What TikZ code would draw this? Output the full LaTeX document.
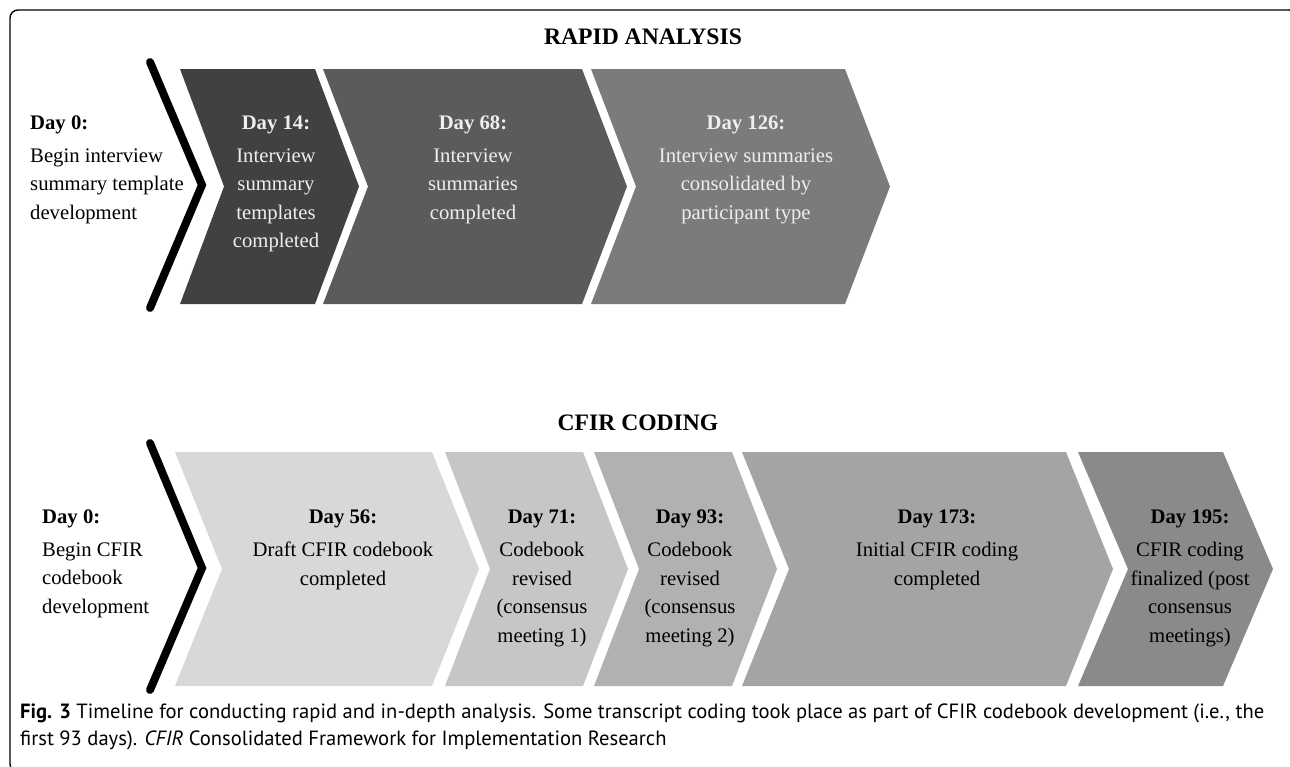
\documentclass[tikz,border=0pt]{standalone}
\usepackage{fontspec}
\setmainfont{Liberation Serif}
\newfontfamily\capfont{PT Sans}
\usepackage{xcolor}
\usetikzlibrary{positioning}

\definecolor{raA}{HTML}{414141}
\definecolor{raB}{HTML}{5B5B5B}
\definecolor{raC}{HTML}{7B7B7B}
\definecolor{cfA}{HTML}{D8D8D8}
\definecolor{cfB}{HTML}{C6C6C6}
\definecolor{cfC}{HTML}{B1B1B1}
\definecolor{cfD}{HTML}{A4A4A4}
\definecolor{cfE}{HTML}{8A8A8A}
\definecolor{lighttext}{HTML}{EEEEEE}

% chevron: left x, right x, top y, bottom y, depth of point, fill colour
\newcommand{\chev}[6]{%
  \fill[#6] (#1,#3) -- (#2,#3) -- ({#2+#5},{(#3+#4)/2}) -- (#2,#4)
    -- (#1,#4) -- ({#1+#5},{(#3+#4)/2}) -- cycle;}

\begin{document}
\begin{tikzpicture}[
    x=1pt,y=-1pt,
    node distance=14.5pt,
    heading/.style={font=\fontsize{23.6}{28}\selectfont\bfseries,inner sep=0pt,anchor=base},
    day/.style={font=\fontsize{20.7}{28}\selectfont\bfseries,inner sep=0pt,anchor=base},
    body/.style={font=\fontsize{20.7}{28.5}\selectfont,inner sep=0pt,align=center},
    bar/.style={line width=8pt,line cap=round,line join=miter}
]
\useasboundingbox (0,0) rectangle (1290,766);

% frame
\draw[line width=1.4pt,rounded corners=8pt] (1297,40) -- (1297,10) -- (10,10) -- (10,772) -- (40,772);

% rapid analysis
\node[heading] (rapid) at (643,44) {RAPID ANALYSIS};
\draw[bar] (150,62) -- (202,185) -- (150,308);
\chev{180}{315}{69}{304}{44}{raA}
\chev{323}{582}{69}{304}{45}{raB}
\chev{591}{845}{69}{304}{45}{raC}

\node[day,anchor=base west] (r0) at (30,129) {Day 0:};
\node[body,align=left,below=of r0.south west,anchor=north west] (r0t)
    {Begin interview\\summary template\\development};
\node[day,text=lighttext] (r14) at (276,129) {Day 14:};
\node[body,text=lighttext,below=of r14] (r14t)
    {Interview\\summary\\templates\\completed};
\node[day,text=lighttext] (r68) at (473,129) {Day 68:};
\node[body,text=lighttext,below=of r68] (r68t)
    {Interview\\summaries\\completed};
\node[day,text=lighttext] (r126) at (746,129) {Day 126:};
\node[body,text=lighttext,below=of r126] (r126t)
    {Interview summaries\\consolidated by\\participant type};

% cfir coding
\node[heading] (cfir) at (638,430) {CFIR CODING};
\draw[bar] (150,443) -- (202,568) -- (150,690);
\chev{175}{432}{452}{686}{47}{cfA}
\chev{445}{583}{452}{686}{45}{cfB}
\chev{594}{732}{452}{686}{45}{cfC}
\chev{742}{1066}{452}{686}{47}{cfD}
\chev{1078}{1223}{452}{686}{50}{cfE}

\node[day,anchor=base west] (c0) at (42,523) {Day 0:};
\node[body,align=left,below=of c0.south west,anchor=north west] (c0t)
    {Begin CFIR\\codebook\\development};
\node[day] (c56) at (343,523) {Day 56:};
\node[body,below=of c56] (c56t)
    {Draft CFIR codebook\\completed};
\node[day] (c71) at (542,523) {Day 71:};
\node[body,below=of c71] (c71t)
    {Codebook\\revised\\(consensus\\meeting 1)};
\node[day] (c93) at (690,523) {Day 93:};
\node[body,below=of c93] (c93t)
    {Codebook\\revised\\(consensus\\meeting 2)};
\node[day] (c173) at (937,523) {Day 173:};
\node[body,below=of c173] (c173t)
    {Initial CFIR coding\\completed};
\node[day] (c195) at (1190,523) {Day 195:};
\node[body,below=of c195] (c195t)
    {CFIR coding\\finalized (post\\consensus\\meetings)};

% caption
\node[font=\capfont\fontsize{20.6}{27}\selectfont,align=left,inner sep=0pt,anchor=base west] (capt) at (20,745)
    {\textbf{Fig. 3} Timeline for conducting rapid and in-depth analysis. Some transcript coding took place as part of CFIR codebook development (i.e., the\\
     first 93 days). \textit{CFIR} Consolidated Framework for Implementation Research};
\end{tikzpicture}
\end{document}
